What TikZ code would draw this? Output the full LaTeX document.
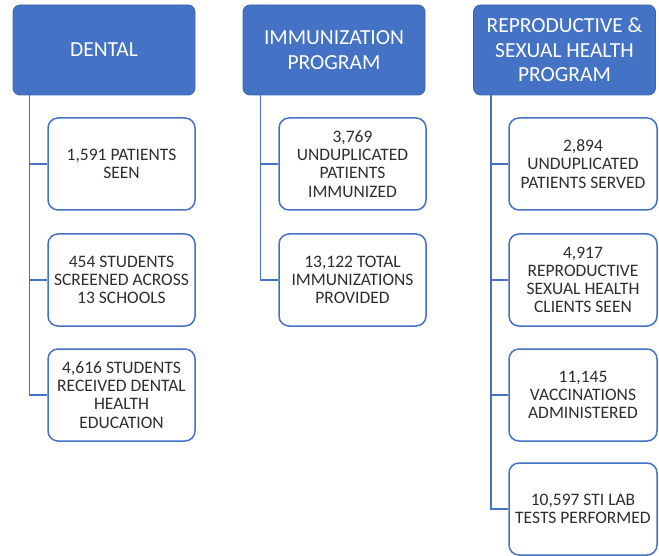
\documentclass[tikz,border=0pt]{standalone}
\usepackage{fontspec}
\setmainfont{Carlito}
\definecolor{hdrblue}{HTML}{4472C4}
\definecolor{hdrline}{HTML}{3A64B0}
\definecolor{txtgray}{HTML}{2E2E2E}
\tikzset{
  header/.style={draw=hdrline, line width=0.8pt, fill=hdrblue, rounded corners=7pt,
    minimum width=182pt, minimum height=90pt, text=white, align=center,
    font=\fontsize{21.5}{24.5}\selectfont, inner sep=2pt},
  item/.style={draw=hdrblue, line width=1.5pt, fill=white, rounded corners=10pt,
    minimum width=147pt, minimum height=92pt, text=txtgray, align=center,
    font=\fontsize{17.5}{18.2}\selectfont, inner sep=2pt},
  link/.style={draw=hdrblue, line width=1.5pt}
}
\begin{document}
\begin{tikzpicture}[x=1pt,y=-1pt]
\useasboundingbox (0,0) rectangle (659,556);
% headers
\node[header] (dental) at (104,50) {DENTAL};
\node[header] (immun) at (334,50) {IMMUNIZATION\\PROGRAM};
\node[header] (repro) at (564.5,50) {REPRODUCTIVE \&\\SEXUAL HEALTH\\PROGRAM};
% dental items
\node[item] (d1) at (121.5,164) {1,591 PATIENTS\\SEEN};
\node[item] (d2) at (121.5,280) {454 STUDENTS\\SCREENED ACROSS\\13 SCHOOLS};
\node[item] (d3) at (121.5,395) {4,616 STUDENTS\\RECEIVED DENTAL\\HEALTH\\EDUCATION};
% immunization items
\node[item] (i1) at (352.5,164) {3,769\\UNDUPLICATED\\PATIENTS\\IMMUNIZED};
\node[item] (i2) at (352.5,280) {13,122 TOTAL\\IMMUNIZATIONS\\PROVIDED};
% reproductive items
\node[item, minimum width=148pt] (r1) at (583,164) {2,894\\UNDUPLICATED\\PATIENTS SERVED};
\node[item, minimum width=148pt] (r2) at (583,280) {4,917\\REPRODUCTIVE\\SEXUAL HEALTH\\CLIENTS SEEN};
\node[item, minimum width=148pt] (r3) at (583,395) {11,145\\VACCINATIONS\\ADMINISTERED};
\node[item, minimum width=148pt] (r4) at (583,509) {10,597 STI LAB\\TESTS PERFORMED};
% connectors
\coordinate (dt) at ([xshift=17pt]dental.south west);
\coordinate (it) at ([xshift=18pt]immun.south west);
\coordinate (rt) at ([xshift=18pt]repro.south west);
\draw[link] (dt) |- (d1.west);
\draw[link] (dt) |- (d2.west);
\draw[link] (dt) |- (d3.west);
\draw[link] (it) |- (i1.west);
\draw[link] (it) |- (i2.west);
\draw[link] (rt) |- (r1.west);
\draw[link] (rt) |- (r2.west);
\draw[link] (rt) |- (r3.west);
\draw[link] (rt) |- (r4.west);
\end{tikzpicture}
\end{document}
